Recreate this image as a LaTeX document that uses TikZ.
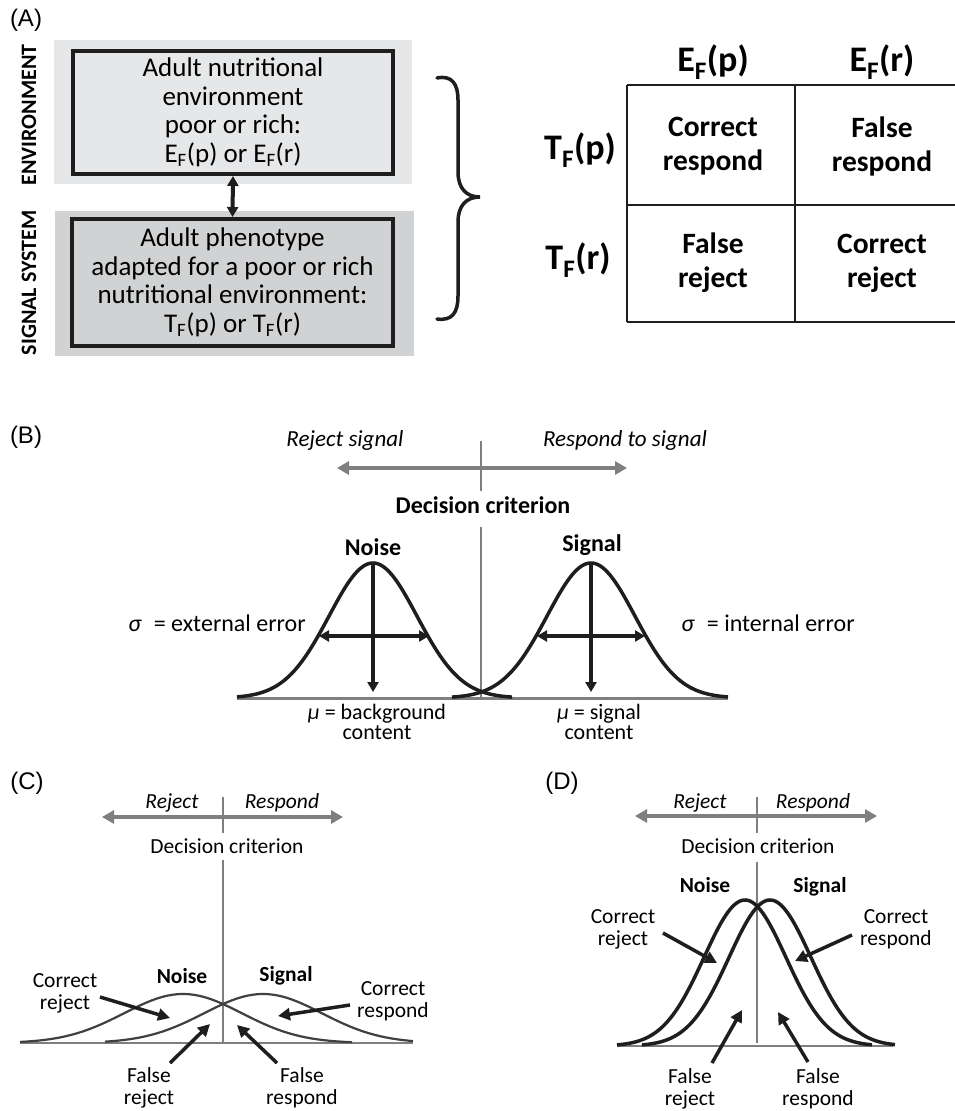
\documentclass[tikz,border=0pt]{standalone}
\usepackage{fontspec}
\setmainfont{Carlito}
\newfontfamily\arialfont{Liberation Sans}
\usetikzlibrary{arrows.meta}
\definecolor{bglight}{HTML}{E6E7E8}
\definecolor{bgdark}{HTML}{D1D2D3}
\definecolor{axisgrey}{HTML}{7F7F7F}
\definecolor{ink}{HTML}{1E1E1E}
\tikzset{
  panellbl/.style={font=\arialfont\fontsize{24}{28}\selectfont},
  boxA/.style={draw=ink, line width=4pt, inner sep=0pt, align=center, font=\fontsize{27}{28.5}\selectfont},
  vlab/.style={font=\bfseries\fontsize{22}{24}\selectfont, rotate=90},
  hdr/.style={font=\bfseries\fontsize{36}{40}\selectfont},
  cell/.style={font=\bfseries\fontsize{29.5}{34}\selectfont, align=center},
  tbl/.style={draw=ink, line width=2pt},
  btxt/.style={font=\fontsize{24}{24}\selectfont, align=center},
  mutxt/.style={font=\fontsize{22}{20.5}\selectfont, align=center},
  bbold/.style={font=\bfseries\fontsize{24}{24}\selectfont},
  bital/.style={font=\itshape\fontsize{23}{23}\selectfont},
  ctxt/.style={font=\fontsize{21.5}{22}\selectfont, align=center},
  cbold/.style={font=\bfseries\fontsize{21.5}{22}\selectfont},
  cital/.style={font=\itshape\fontsize{21.5}{22}\selectfont},
  gaxis/.style={draw=axisgrey, line width=4pt, {Triangle[length=12pt,width=13pt]}-{Triangle[length=12pt,width=13pt]}},
  gline/.style={draw=axisgrey, line width=2.5pt},
  dblarrow/.style={draw=ink, line width=4pt, {Triangle[length=10pt,width=11pt]}-{Triangle[length=10pt,width=11pt]}},
  downarrow/.style={draw=ink, line width=3.5pt, -{Triangle[length=10pt,width=11pt]}},
  ptr/.style={draw=ink, line width=3.5pt, -{Triangle[length=12pt,width=12pt]}},
  curveB/.style={draw=ink, line width=3.5pt},
  curveC/.style={draw=ink!85, line width=2.2pt},
  curveD/.style={draw=ink, line width=3.5pt},
}
\begin{document}
\begin{tikzpicture}[x=1pt,y=-1pt]
\useasboundingbox (0,0) rectangle (955,1111);
\fill[white] (0,0) rectangle (955,1111);

% ---------------- Panel A ----------------
\node[panellbl] (labA) at (26,20) {(A)};
\fill[bglight] (54,40) rectangle (412,184);
\fill[bgdark] (55,211) rectangle (414,356);
\node[boxA, fill=bglight, minimum width=320pt, minimum height=123pt] (env) at (233,112.5)
  {Adult nutritional\\environment\\poor or rich:\\E\textsubscript{F}(p) or E\textsubscript{F}(r)};
\node[boxA, fill=bgdark, minimum width=321pt, minimum height=127pt] (phen) at (232.5,282.5)
  {Adult phenotype\\adapted for a poor or rich\\nutritional environment:\\T\textsubscript{F}(p) or T\textsubscript{F}(r)};
\draw[dblarrow] (env.south) -- (phen.north);
\node[vlab] (envlab) at (29,115) {ENVIRONMENT};
\node[vlab] (siglab) at (29,283) {SIGNAL SYSTEM};
\draw[draw=ink, line width=3.5pt, line cap=round]
  (437,78) .. controls (452,75) and (458,84) .. (458,100) -- (458,172)
  .. controls (458,188) and (466,197) .. (480,197)
  .. controls (466,197) and (458,206) .. (458,222) -- (458,296)
  .. controls (458,313) and (452,321) .. (437,319);

% table
\draw[tbl] (627,85) -- (955,85);
\draw[tbl] (627,205) -- (955,205);
\draw[tbl] (627,322) -- (955,322);
\draw[tbl] (627,85) -- (627,322);
\draw[tbl] (795,85) -- (795,322);
\node[hdr] (hEp) at (713,62) {E\textsubscript{F}(p)};
\node[hdr] (hEr) at (882,62) {E\textsubscript{F}(r)};
\node[hdr] (hTp) at (580,150) {T\textsubscript{F}(p)};
\node[hdr] (hTr) at (578,260) {T\textsubscript{F}(r)};
\node[cell] (c11) at (713,146) {Correct\\respond};
\node[cell] (c12) at (882,146) {False\\respond};
\node[cell] (c21) at (713,263) {False\\reject};
\node[cell] (c22) at (882,263) {Correct\\reject};

% ---------------- Panel B ----------------
\node[panellbl] (labB) at (26,437) {(B)};
\node[bital] (rejs) at (345,440) {Reject signal};
\node[bital] (resps) at (625,440) {Respond to signal};
\coordinate (bL) at (337,468);
\coordinate (bR) at (627,468);
\draw[gaxis, line width=4.5pt] (bL) -- (bR);
\coordinate (bT1) at (481,441);
\coordinate (bT2) at (481,491);
\draw[gline] (bT1) -- (bT2);
\node[bbold] (decB) at (483,505) {Decision criterion};
\coordinate (bV1) at (481,527);
\coordinate (bV2) at (481,698);
\draw[gline] (bV1) -- (bV2);
\coordinate (bB1) at (237,698);
\coordinate (bB2) at (728,698);
\draw[gline, line width=3pt] (bB1) -- (bB2);
\draw[curveB] plot[domain=237:512, samples=120, smooth] (\x,{698-135*exp(-0.5*((\x-373)/44)^2)});
\draw[curveB] plot[domain=452:728, samples=120, smooth] (\x,{698-135*exp(-0.5*((\x-591)/44)^2)});
\node[bbold] (noiseB) at (373,547) {Noise};
\node[bbold] (signalB) at (592,545) {Signal};
\coordinate (nsl) at (319,636);
\coordinate (nsr) at (429,636);
\draw[dblarrow, line width=3.5pt] (nsl) -- (nsr);
\coordinate (ssl) at (537,636);
\coordinate (ssr) at (645,636);
\draw[dblarrow, line width=3.5pt] (ssl) -- (ssr);
\coordinate (nt) at (373,563);
\coordinate (nb) at (373,692);
\draw[downarrow] (nt) -- (nb);
\coordinate (st) at (591,563);
\coordinate (sb) at (591,692);
\draw[downarrow] (st) -- (sb);
\node[btxt] (sigext) at (217,623) {\textit{σ}\enspace = external error};
\node[btxt] (sigint) at (768,623) {\textit{σ}\enspace = internal error};
\node[mutxt] (muN) at (377,722) {\textit{μ} = background\\content};
\node[mutxt] (muS) at (599,722) {\textit{μ} = signal\\content};

% ---------------- Panel C ----------------
\node[panellbl] (labC) at (27,783) {(C)};
\node[cital] (rejC) at (172,803) {Reject};
\node[cital] (resC) at (282,803) {Respond};
\coordinate (cL) at (102,817);
\coordinate (cR) at (343,817);
\draw[gaxis] (cL) -- (cR);
\coordinate (cT1) at (223,797);
\coordinate (cT2) at (223,833);
\draw[gline, line width=2pt] (cT1) -- (cT2);
\node[ctxt] (decC) at (227,846) {Decision criterion};
\coordinate (cV1) at (223,860);
\coordinate (cV2) at (223,1043);
\draw[gline, line width=2pt] (cV1) -- (cV2);
\coordinate (cB1) at (20,1043);
\coordinate (cB2) at (413,1043);
\draw[gline, line width=2pt] (cB1) -- (cB2);
\draw[curveC] plot[domain=20:352, samples=120, smooth] (\x,{1043-49*exp(-0.5*((\x-183)/59)^2)});
\draw[curveC] plot[domain=105:413, samples=120, smooth] (\x,{1043-49*exp(-0.5*((\x-263)/59)^2)});
\node[cbold] (noiseC) at (182,976) {Noise};
\node[cbold] (signalC) at (286,976) {Signal};
\node[ctxt] (crC) at (65,993) {Correct\\reject};
\node[ctxt] (cpC) at (393,1001) {Correct\\respond};
\node[ctxt] (frC) at (149,1088) {False\\reject};
\node[ctxt] (fpC) at (302,1088) {False\\respond};
\coordinate (crCs) at (100,997);  \coordinate (crCe) at (170,1018);
\coordinate (cpCs) at (350,1005); \coordinate (cpCe) at (278,1016);
\coordinate (frCs) at (170,1063); \coordinate (frCe) at (210,1024);
\coordinate (fpCs) at (277,1063); \coordinate (fpCe) at (237,1025);
\draw[ptr] (crCs) -- (crCe);
\draw[ptr] (cpCs) -- (cpCe);
\draw[ptr] (frCs) -- (frCe);
\draw[ptr] (fpCs) -- (fpCe);

% ---------------- Panel D ----------------
\node[panellbl] (labD) at (562,783) {(D)};
\node[cital] (rejD) at (700,803) {Reject};
\node[cital] (resD) at (813,803) {Respond};
\coordinate (dL) at (635,816);
\coordinate (dR) at (877,816);
\draw[gaxis] (dL) -- (dR);
\coordinate (dT1) at (757,797);
\coordinate (dT2) at (757,833);
\draw[gline, line width=2pt] (dT1) -- (dT2);
\node[ctxt] (decD) at (758,846) {Decision criterion};
\coordinate (dV1) at (757,862);
\coordinate (dV2) at (757,1043);
\draw[gline, line width=2pt] (dV1) -- (dV2);
\coordinate (dB1) at (617,1046);
\coordinate (dB2) at (893,1046);
\draw[gline, line width=2.5pt] (dB1) -- (dB2);
\draw[curveD] plot[domain=617:872, samples=120, smooth] (\x,{1046-146*exp(-0.5*((\x-745)/41)^2)});
\draw[curveD] plot[domain=642:895, samples=120, smooth] (\x,{1046-146*exp(-0.5*((\x-770)/41)^2)});
\node[cbold] (noiseD) at (705,885) {Noise};
\node[cbold] (signalD) at (820,887) {Signal};
\node[ctxt] (crD) at (623,929) {Correct\\reject};
\node[ctxt] (cpD) at (896,929) {Correct\\respond};
\node[ctxt] (frD) at (690,1089) {False\\reject};
\node[ctxt] (fpD) at (818,1089) {False\\respond};
\coordinate (crDs) at (663,933);  \coordinate (crDe) at (717,963);
\coordinate (cpDs) at (852,935);  \coordinate (cpDe) at (795,961);
\coordinate (frDs) at (712,1063); \coordinate (frDe) at (742,1010);
\coordinate (fpDs) at (808,1062); \coordinate (fpDe) at (778,1012);
\draw[ptr] (crDs) -- (crDe);
\draw[ptr] (cpDs) -- (cpDe);
\draw[ptr] (frDs) -- (frDe);
\draw[ptr] (fpDs) -- (fpDe);
\end{tikzpicture}
\end{document}
